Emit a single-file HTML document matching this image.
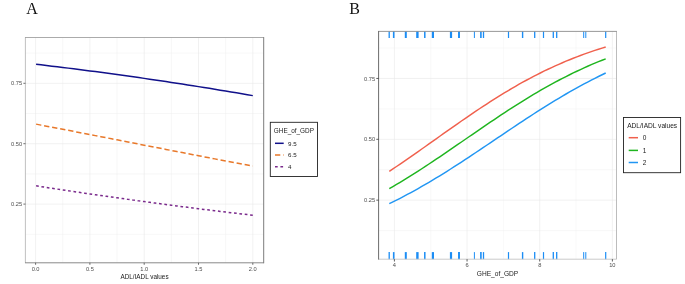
<!DOCTYPE html>
<html><head><meta charset="utf-8"><title>Figure</title>
<style>
html,body{margin:0;padding:0;background:#fff;}
body{width:685px;height:284px;overflow:hidden;}
svg{display:block;will-change:transform;}
text{font-family:"Liberation Sans",sans-serif;}
.ser{font-family:"Liberation Serif",serif;font-size:16px;fill:#111;}
.tk{font-size:5.7px;fill:#4d4d4d;}
.ti{font-size:6.35px;fill:#222;}
.tib{font-size:6.6px;fill:#222;}
.lg{font-size:6.4px;fill:#222;}
.ll{font-size:6.2px;fill:#1a1a1a;}
.llb{font-size:6.5px;fill:#1a1a1a;}
</style></head><body>
<svg width="685" height="284" viewBox="0 0 685 284">
<rect width="685" height="284" fill="#fff"/>

<text class="ser" x="26.2" y="13.9">A</text>
<line x1="62.75" x2="62.75" y1="37.5" y2="262.8" stroke="#eeeeee" stroke-width="0.5"/>
<line x1="117.05" x2="117.05" y1="37.5" y2="262.8" stroke="#eeeeee" stroke-width="0.5"/>
<line x1="171.35" x2="171.35" y1="37.5" y2="262.8" stroke="#eeeeee" stroke-width="0.5"/>
<line x1="225.65" x2="225.65" y1="37.5" y2="262.8" stroke="#eeeeee" stroke-width="0.5"/>
<line y1="234.30" y2="234.30" x1="25.4" x2="263.7" stroke="#eeeeee" stroke-width="0.5"/>
<line y1="173.90" y2="173.90" x1="25.4" x2="263.7" stroke="#eeeeee" stroke-width="0.5"/>
<line y1="113.50" y2="113.50" x1="25.4" x2="263.7" stroke="#eeeeee" stroke-width="0.5"/>
<line y1="53.10" y2="53.10" x1="25.4" x2="263.7" stroke="#eeeeee" stroke-width="0.5"/>
<line x1="35.60" x2="35.60" y1="37.5" y2="262.8" stroke="#e7e7e7" stroke-width="0.6"/>
<line x1="89.90" x2="89.90" y1="37.5" y2="262.8" stroke="#e7e7e7" stroke-width="0.6"/>
<line x1="144.20" x2="144.20" y1="37.5" y2="262.8" stroke="#e7e7e7" stroke-width="0.6"/>
<line x1="198.50" x2="198.50" y1="37.5" y2="262.8" stroke="#e7e7e7" stroke-width="0.6"/>
<line x1="252.80" x2="252.80" y1="37.5" y2="262.8" stroke="#e7e7e7" stroke-width="0.6"/>
<line y1="204.10" y2="204.10" x1="25.4" x2="263.7" stroke="#e7e7e7" stroke-width="0.6"/>
<line y1="143.70" y2="143.70" x1="25.4" x2="263.7" stroke="#e7e7e7" stroke-width="0.6"/>
<line y1="83.30" y2="83.30" x1="25.4" x2="263.7" stroke="#e7e7e7" stroke-width="0.6"/>
<polyline fill="none" stroke="#10108a" stroke-width="1.5" points="36.10,64.21 41.03,64.85 46.46,65.49 51.89,66.14 57.32,66.80 62.75,67.46 68.18,68.13 73.61,68.81 79.04,69.50 84.47,70.20 89.90,70.90 95.33,71.61 100.76,72.33 106.19,73.06 111.62,73.80 117.05,74.54 122.48,75.29 127.91,76.05 133.34,76.82 138.77,77.59 144.20,78.37 149.63,79.16 155.06,79.96 160.49,80.77 165.92,81.58 171.35,82.40 176.78,83.23 182.21,84.07 187.64,84.91 193.07,85.76 198.50,86.62 203.93,87.49 209.36,88.36 214.79,89.25 220.22,90.14 225.65,91.03 231.08,91.94 236.51,92.85 241.94,93.76 247.37,94.69 252.80,95.62"/>
<polyline fill="none" stroke="#e8782a" stroke-width="1.5" stroke-dasharray="5.3 2.87" points="36.10,124.11 41.03,125.14 46.46,126.18 51.89,127.22 57.32,128.26 62.75,129.31 68.18,130.35 73.61,131.40 79.04,132.45 84.47,133.51 89.90,134.56 95.33,135.62 100.76,136.68 106.19,137.73 111.62,138.79 117.05,139.85 122.48,140.91 127.91,141.97 133.34,143.03 138.77,144.10 144.20,145.16 149.63,146.22 155.06,147.28 160.49,148.34 165.92,149.40 171.35,150.46 176.78,151.51 182.21,152.57 187.64,153.63 193.07,154.68 198.50,155.73 203.93,156.78 209.36,157.83 214.79,158.87 220.22,159.92 225.65,160.96 231.08,162.00 236.51,163.03 241.94,164.06 247.37,165.09 252.80,166.12"/>
<polyline fill="none" stroke="#7a2a8c" stroke-width="1.5" stroke-dasharray="2.7 2.7" points="36.10,185.76 41.03,186.60 46.46,187.44 51.89,188.27 57.32,189.10 62.75,189.92 68.18,190.73 73.61,191.55 79.04,192.35 84.47,193.15 89.90,193.95 95.33,194.74 100.76,195.53 106.19,196.31 111.62,197.08 117.05,197.85 122.48,198.61 127.91,199.37 133.34,200.12 138.77,200.87 144.20,201.61 149.63,202.35 155.06,203.08 160.49,203.80 165.92,204.52 171.35,205.24 176.78,205.94 182.21,206.65 187.64,207.34 193.07,208.03 198.50,208.72 203.93,209.39 209.36,210.07 214.79,210.73 220.22,211.39 225.65,212.05 231.08,212.70 236.51,213.34 241.94,213.98 247.37,214.61 252.80,215.24"/>
<path d="M25.4 262.8V37.5" fill="none" stroke="#b0b0b0" stroke-width="0.8"/>
<path d="M25.0 37.5H263.7" fill="none" stroke="#969696" stroke-width="0.8"/>
<path d="M25.0 262.8H263.7" fill="none" stroke="#7c7c7c" stroke-width="0.9"/>
<path d="M263.7 37.1V263.25" fill="none" stroke="#6e6e6e" stroke-width="0.9"/>
<line x1="23.4" x2="25.4" y1="204.10" y2="204.10" stroke="#333" stroke-width="0.7"/>
<text class="tk" text-anchor="end" x="22.099999999999998" y="206.15">0.25</text>
<line x1="23.4" x2="25.4" y1="143.70" y2="143.70" stroke="#333" stroke-width="0.7"/>
<text class="tk" text-anchor="end" x="22.099999999999998" y="145.75">0.50</text>
<line x1="23.4" x2="25.4" y1="83.30" y2="83.30" stroke="#333" stroke-width="0.7"/>
<text class="tk" text-anchor="end" x="22.099999999999998" y="85.35">0.75</text>
<line y1="262.8" y2="264.8" x1="35.60" x2="35.60" stroke="#333" stroke-width="0.7"/>
<text class="tk" text-anchor="middle" x="35.60" y="270.80">0.0</text>
<line y1="262.8" y2="264.8" x1="89.90" x2="89.90" stroke="#333" stroke-width="0.7"/>
<text class="tk" text-anchor="middle" x="89.90" y="270.80">0.5</text>
<line y1="262.8" y2="264.8" x1="144.20" x2="144.20" stroke="#333" stroke-width="0.7"/>
<text class="tk" text-anchor="middle" x="144.20" y="270.80">1.0</text>
<line y1="262.8" y2="264.8" x1="198.50" x2="198.50" stroke="#333" stroke-width="0.7"/>
<text class="tk" text-anchor="middle" x="198.50" y="270.80">1.5</text>
<line y1="262.8" y2="264.8" x1="252.80" x2="252.80" stroke="#333" stroke-width="0.7"/>
<text class="tk" text-anchor="middle" x="252.80" y="270.80">2.0</text>
<text class="ti" text-anchor="middle" x="144.55" y="278.8">ADL/IADL values</text>
<rect x="270.3" y="122.3" width="47.2" height="54.2" fill="#fff" stroke="#222" stroke-width="0.9"/>
<text class="lg" x="273.8" y="132.7">GHE_of_GDP</text>
<line x1="275" x2="283.7" y1="143.3" y2="143.3" stroke="#10108a" stroke-width="1.5"/>
<text class="ll" x="288" y="145.55">9.5</text>
<line x1="275" x2="283.7" y1="155" y2="155" stroke="#e8782a" stroke-width="1.5" stroke-dasharray="5.3 2.87"/>
<text class="ll" x="288" y="157.25">6.5</text>
<line x1="275" x2="283.7" y1="166.8" y2="166.8" stroke="#7a2a8c" stroke-width="1.5" stroke-dasharray="2.7 2.7"/>
<text class="ll" x="288" y="169.05">4</text>
<text class="ser" x="349.3" y="13.9">B</text>
<line x1="430.73" x2="430.73" y1="31.4" y2="259.2" stroke="#f3f3f3" stroke-width="0.5"/>
<line x1="503.39" x2="503.39" y1="31.4" y2="259.2" stroke="#f3f3f3" stroke-width="0.5"/>
<line x1="576.05" x2="576.05" y1="31.4" y2="259.2" stroke="#f3f3f3" stroke-width="0.5"/>
<line y1="230.57" y2="230.57" x1="378.6" x2="616.5" stroke="#f1f1f1" stroke-width="0.5"/>
<line y1="169.73" y2="169.73" x1="378.6" x2="616.5" stroke="#f1f1f1" stroke-width="0.5"/>
<line y1="108.88" y2="108.88" x1="378.6" x2="616.5" stroke="#f1f1f1" stroke-width="0.5"/>
<line y1="48.03" y2="48.03" x1="378.6" x2="616.5" stroke="#f1f1f1" stroke-width="0.5"/>
<line x1="394.40" x2="394.40" y1="31.4" y2="259.2" stroke="#e7e7e7" stroke-width="0.6"/>
<line x1="467.06" x2="467.06" y1="31.4" y2="259.2" stroke="#e7e7e7" stroke-width="0.6"/>
<line x1="539.72" x2="539.72" y1="31.4" y2="259.2" stroke="#e7e7e7" stroke-width="0.6"/>
<line x1="612.38" x2="612.38" y1="31.4" y2="259.2" stroke="#e7e7e7" stroke-width="0.6"/>
<line y1="200.15" y2="200.15" x1="378.6" x2="616.5" stroke="#e7e7e7" stroke-width="0.6"/>
<line y1="139.30" y2="139.30" x1="378.6" x2="616.5" stroke="#e7e7e7" stroke-width="0.6"/>
<line y1="78.45" y2="78.45" x1="378.6" x2="616.5" stroke="#e7e7e7" stroke-width="0.6"/>
<polyline fill="none" stroke="#f0604d" stroke-width="1.45" points="389.30,171.31 392.91,168.91 396.51,166.49 400.12,164.05 403.73,161.59 407.33,159.10 410.94,156.60 414.55,154.09 418.15,151.56 421.76,149.02 425.37,146.48 428.97,143.92 432.58,141.37 436.19,138.81 439.79,136.25 443.40,133.69 447.01,131.14 450.61,128.60 454.22,126.06 457.83,123.54 461.43,121.03 465.04,118.54 468.65,116.06 472.25,113.61 475.86,111.17 479.47,108.76 483.07,106.38 486.68,104.02 490.29,101.69 493.89,99.39 497.50,97.12 501.11,94.89 504.71,92.68 508.32,90.52 511.93,88.39 515.53,86.30 519.14,84.24 522.75,82.23 526.35,80.25 529.96,78.31 533.57,76.42 537.17,74.56 540.78,72.75 544.39,70.97 547.99,69.24 551.60,67.55 555.21,65.90 558.81,64.29 562.42,62.73 566.03,61.20 569.63,59.72 573.24,58.27 576.85,56.87 580.45,55.50 584.06,54.17 587.67,52.89 591.27,51.64 594.88,50.42 598.49,49.25 602.09,48.11 605.70,47.00"/>
<polyline fill="none" stroke="#1fb51f" stroke-width="1.45" points="389.30,188.71 392.91,186.62 396.51,184.49 400.12,182.33 403.73,180.14 407.33,177.91 410.94,175.66 414.55,173.39 418.15,171.08 421.76,168.75 425.37,166.40 428.97,164.02 432.58,161.63 436.19,159.22 439.79,156.79 443.40,154.35 447.01,151.89 450.61,149.43 454.22,146.95 457.83,144.47 461.43,141.99 465.04,139.50 468.65,137.02 472.25,134.53 475.86,132.05 479.47,129.58 483.07,127.11 486.68,124.65 490.29,122.21 493.89,119.78 497.50,117.36 501.11,114.97 504.71,112.59 508.32,110.23 511.93,107.90 515.53,105.59 519.14,103.31 522.75,101.05 526.35,98.83 529.96,96.63 533.57,94.46 537.17,92.33 540.78,90.23 544.39,88.17 547.99,86.13 551.60,84.14 555.21,82.18 558.81,80.26 562.42,78.38 566.03,76.54 569.63,74.73 573.24,72.96 576.85,71.23 580.45,69.54 584.06,67.89 587.67,66.28 591.27,64.71 594.88,63.18 598.49,61.68 602.09,60.23 605.70,58.81"/>
<polyline fill="none" stroke="#2196f3" stroke-width="1.45" points="389.30,203.70 392.91,201.93 396.51,200.13 400.12,198.28 403.73,196.40 407.33,194.48 410.94,192.53 414.55,190.55 418.15,188.53 421.76,186.48 425.37,184.39 428.97,182.28 432.58,180.13 436.19,177.96 439.79,175.76 443.40,173.53 447.01,171.27 450.61,169.00 454.22,166.70 457.83,164.38 461.43,162.04 465.04,159.68 468.65,157.30 472.25,154.92 475.86,152.52 479.47,150.11 483.07,147.69 486.68,145.26 490.29,142.83 493.89,140.40 497.50,137.97 501.11,135.53 504.71,133.10 508.32,130.68 511.93,128.26 515.53,125.85 519.14,123.45 522.75,121.07 526.35,118.69 529.96,116.34 533.57,114.00 537.17,111.68 540.78,109.38 544.39,107.11 547.99,104.86 551.60,102.63 555.21,100.43 558.81,98.26 562.42,96.12 566.03,94.00 569.63,91.92 573.24,89.88 576.85,87.86 580.45,85.88 584.06,83.93 587.67,82.02 591.27,80.14 594.88,78.30 598.49,76.50 602.09,74.73 605.70,73.00"/>
<line x1="389.2" x2="389.2" y1="31.4" y2="38" stroke="#1b8df5" stroke-width="1.3"/>
<line x1="389.2" x2="389.2" y1="252.1" y2="259.2" stroke="#1b8df5" stroke-width="1.3"/>
<line x1="393.7" x2="393.7" y1="31.4" y2="38" stroke="#1b8df5" stroke-width="1.6"/>
<line x1="393.7" x2="393.7" y1="252.1" y2="259.2" stroke="#1b8df5" stroke-width="1.6"/>
<line x1="405.8" x2="405.8" y1="31.4" y2="38" stroke="#1b8df5" stroke-width="2.0"/>
<line x1="405.8" x2="405.8" y1="252.1" y2="259.2" stroke="#1b8df5" stroke-width="2.0"/>
<line x1="417.4" x2="417.4" y1="31.4" y2="38" stroke="#1b8df5" stroke-width="2.4"/>
<line x1="417.4" x2="417.4" y1="252.1" y2="259.2" stroke="#1b8df5" stroke-width="2.4"/>
<line x1="424.8" x2="424.8" y1="31.4" y2="38" stroke="#1b8df5" stroke-width="1.5"/>
<line x1="424.8" x2="424.8" y1="252.1" y2="259.2" stroke="#1b8df5" stroke-width="1.5"/>
<line x1="432.9" x2="432.9" y1="31.4" y2="38" stroke="#1b8df5" stroke-width="2.2"/>
<line x1="432.9" x2="432.9" y1="252.1" y2="259.2" stroke="#1b8df5" stroke-width="2.2"/>
<line x1="451" x2="451" y1="31.4" y2="38" stroke="#1b8df5" stroke-width="2.2"/>
<line x1="451" x2="451" y1="252.1" y2="259.2" stroke="#1b8df5" stroke-width="2.2"/>
<line x1="459" x2="459" y1="31.4" y2="38" stroke="#1b8df5" stroke-width="1.9"/>
<line x1="459" x2="459" y1="252.1" y2="259.2" stroke="#1b8df5" stroke-width="1.9"/>
<line x1="474.4" x2="474.4" y1="31.4" y2="38" stroke="#1b8df5" stroke-width="1.0"/>
<line x1="474.4" x2="474.4" y1="252.1" y2="259.2" stroke="#1b8df5" stroke-width="1.0"/>
<line x1="480.9" x2="480.9" y1="31.4" y2="38" stroke="#1b8df5" stroke-width="1.6"/>
<line x1="480.9" x2="480.9" y1="252.1" y2="259.2" stroke="#1b8df5" stroke-width="1.6"/>
<line x1="483.5" x2="483.5" y1="31.4" y2="38" stroke="#1b8df5" stroke-width="1.3"/>
<line x1="483.5" x2="483.5" y1="252.1" y2="259.2" stroke="#1b8df5" stroke-width="1.3"/>
<line x1="508.5" x2="508.5" y1="31.4" y2="38" stroke="#1b8df5" stroke-width="1.2"/>
<line x1="508.5" x2="508.5" y1="252.1" y2="259.2" stroke="#1b8df5" stroke-width="1.2"/>
<line x1="522.6" x2="522.6" y1="31.4" y2="38" stroke="#1b8df5" stroke-width="1.4"/>
<line x1="522.6" x2="522.6" y1="252.1" y2="259.2" stroke="#1b8df5" stroke-width="1.4"/>
<line x1="534.7" x2="534.7" y1="31.4" y2="38" stroke="#1b8df5" stroke-width="1.3"/>
<line x1="534.7" x2="534.7" y1="252.1" y2="259.2" stroke="#1b8df5" stroke-width="1.3"/>
<line x1="543.5" x2="543.5" y1="31.4" y2="38" stroke="#1b8df5" stroke-width="1.2"/>
<line x1="543.5" x2="543.5" y1="252.1" y2="259.2" stroke="#1b8df5" stroke-width="1.2"/>
<line x1="553.3" x2="553.3" y1="31.4" y2="38" stroke="#1b8df5" stroke-width="1.3"/>
<line x1="553.3" x2="553.3" y1="252.1" y2="259.2" stroke="#1b8df5" stroke-width="1.3"/>
<line x1="556.7" x2="556.7" y1="31.4" y2="38" stroke="#1b8df5" stroke-width="1.3"/>
<line x1="556.7" x2="556.7" y1="252.1" y2="259.2" stroke="#1b8df5" stroke-width="1.3"/>
<line x1="583.7" x2="583.7" y1="31.4" y2="38" stroke="#1b8df5" stroke-width="1.0"/>
<line x1="583.7" x2="583.7" y1="252.1" y2="259.2" stroke="#1b8df5" stroke-width="1.0"/>
<line x1="585.8" x2="585.8" y1="31.4" y2="38" stroke="#1b8df5" stroke-width="1.0"/>
<line x1="585.8" x2="585.8" y1="252.1" y2="259.2" stroke="#1b8df5" stroke-width="1.0"/>
<line x1="605.7" x2="605.7" y1="31.4" y2="38" stroke="#1b8df5" stroke-width="1.2"/>
<line x1="605.7" x2="605.7" y1="252.1" y2="259.2" stroke="#1b8df5" stroke-width="1.2"/>
<path d="M378.6 259.2H616.5" fill="none" stroke="#c4c4c4" stroke-width="0.9"/>
<path d="M616.5 259.2V31.4" fill="none" stroke="#ababab" stroke-width="0.8"/>
<path d="M378.6 31.4H616.9" fill="none" stroke="#8c8c8c" stroke-width="0.9"/>
<path d="M378.6 30.95V259.59999999999997" fill="none" stroke="#6c6c6c" stroke-width="1"/>
<line x1="376.3" x2="378.6" y1="200.15" y2="200.15" stroke="#333" stroke-width="0.8"/>
<text class="tk" text-anchor="end" x="375.20000000000005" y="202.20">0.25</text>
<line x1="376.3" x2="378.6" y1="139.30" y2="139.30" stroke="#333" stroke-width="0.8"/>
<text class="tk" text-anchor="end" x="375.20000000000005" y="141.35">0.50</text>
<line x1="376.3" x2="378.6" y1="78.45" y2="78.45" stroke="#333" stroke-width="0.8"/>
<text class="tk" text-anchor="end" x="375.20000000000005" y="80.50">0.75</text>
<line y1="259.2" y2="261.5" x1="394.40" x2="394.40" stroke="#333" stroke-width="0.8"/>
<text class="tk" text-anchor="middle" x="394.40" y="267.20">4</text>
<line y1="259.2" y2="261.5" x1="467.06" x2="467.06" stroke="#333" stroke-width="0.8"/>
<text class="tk" text-anchor="middle" x="467.06" y="267.20">6</text>
<line y1="259.2" y2="261.5" x1="539.72" x2="539.72" stroke="#333" stroke-width="0.8"/>
<text class="tk" text-anchor="middle" x="539.72" y="267.20">8</text>
<line y1="259.2" y2="261.5" x1="612.38" x2="612.38" stroke="#333" stroke-width="0.8"/>
<text class="tk" text-anchor="middle" x="612.38" y="267.20">10</text>
<text class="tib" text-anchor="middle" x="497.55" y="275.65">GHE_of_GDP</text>
<rect x="623.5" y="117.5" width="57.1" height="55.2" fill="#fff" stroke="#222" stroke-width="0.9"/>
<text class="tib" x="627.2" y="127.9">ADL/IADL values</text>
<line x1="628.7" x2="638" y1="137.7" y2="137.7" stroke="#f0604d" stroke-width="1.5"/>
<text class="llb" x="642.7" y="140.04999999999998">0</text>
<line x1="628.7" x2="638" y1="150.4" y2="150.4" stroke="#1fb51f" stroke-width="1.5"/>
<text class="llb" x="642.7" y="152.75">1</text>
<line x1="628.7" x2="638" y1="162.5" y2="162.5" stroke="#2196f3" stroke-width="1.5"/>
<text class="llb" x="642.7" y="164.85">2</text>
</svg></body></html>
